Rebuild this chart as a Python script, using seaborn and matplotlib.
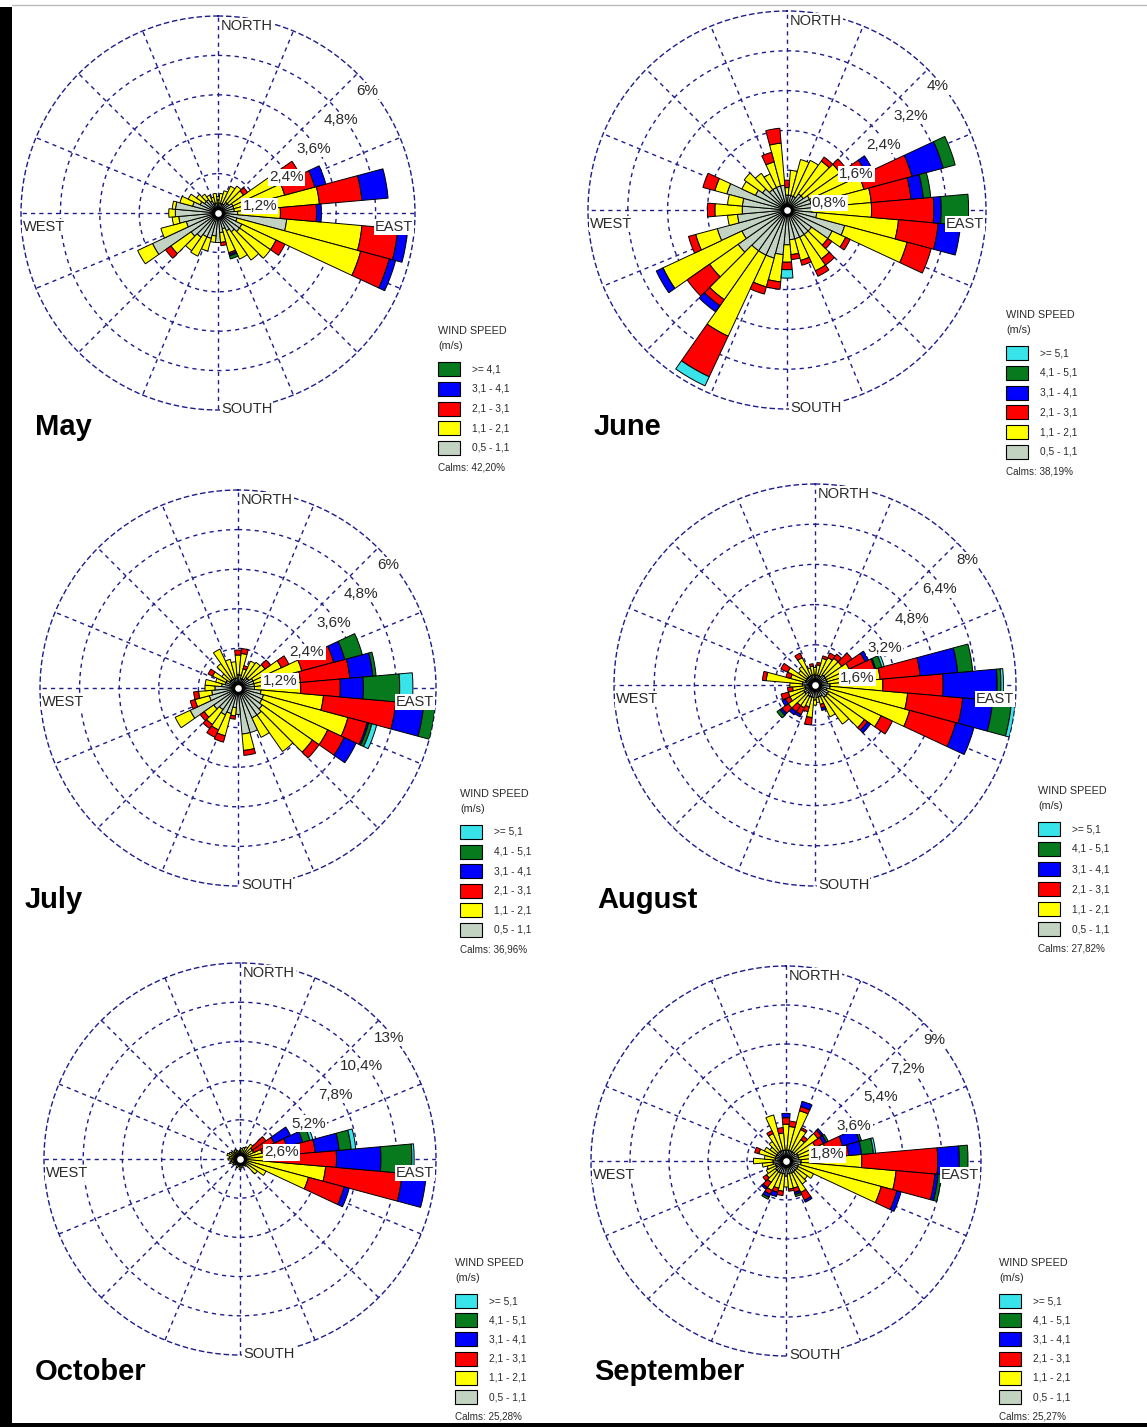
import numpy as np
import matplotlib
matplotlib.use("Agg")
import matplotlib.pyplot as plt
from matplotlib.patches import Rectangle
from matplotlib.lines import Line2D
import seaborn as sns

sns.set_theme(style="white")
plt.rcParams['font.family'] = ['Liberation Sans', 'DejaVu Sans']

W, H = 1147, 1427

# 36 sectors, compass degrees (clockwise from north)
directions = np.arange(0, 360, 10)

# ---- frequencies (%) per speed class, one value per sector ----
may_05 = [0.4, 0.3, 0.3, 0.3, 0.4, 0.4, 0.5, 0.5, 0.5, 0.6, 2.1, 0.6,
          0.8, 0.8, 0.7, 0.6, 0.5, 0.6, 0.9, 0.7, 0.8, 0.8, 0.9, 1.0,
          2.2, 1.0, 1.2, 1.3, 1.3, 0.8, 0.6, 0.5, 0.5, 0.4, 0.3, 0.3]
may_11 = [0.1, 0.3, 0.4, 0.6, 0.6, 0.55, 1.5, 1.6, 2.6, 1.3, 2.3, 3.9,
          1.15, 1.15, 1.05, 0.95, 0.75, 0.3, 0.0, 0.2, 0.4, 0.65, 0.5, 0.75,
          0.5, 0.8, 0.2, 0.2, 0.1, 0.4, 0.4, 0.3, 0.2, 0.2, 0.2, 0.3]
may_21 = [0, 0, 0, 0, 0, 0.15, 0.75, 0.95, 1.3, 1.1, 1.1, 0.9,
          0.3, 0, 0, 0, 0.05, 0.1, 0, 0, 0, 0, 0, 0.2,
          0, 0, 0, 0, 0, 0, 0, 0, 0, 0, 0, 0]
may_31 = [0, 0, 0, 0, 0, 0, 0, 0.35, 0.8, 0.15, 0.3, 0.2,
          0, 0, 0, 0, 0.05, 0, 0, 0, 0, 0, 0, 0,
          0, 0, 0, 0, 0, 0, 0, 0, 0, 0, 0, 0]
may_41 = [0, 0, 0, 0, 0, 0, 0, 0, 0, 0, 0, 0,
          0, 0, 0, 0, 0.1, 0, 0, 0, 0, 0, 0, 0,
          0, 0, 0, 0, 0, 0, 0, 0, 0, 0, 0, 0]

june_05 = [0.3, 0.3, 0.3, 0.3, 0.4, 0.4, 0.5, 0.5, 0.5, 0.5, 0.6, 1.2,
           1.0, 0.6, 0.6, 0.6, 0.6, 0.6, 0.7, 0.9, 1.0, 1.0, 1.0, 1.2,
           1.0, 1.45, 1.0, 0.9, 0.9, 1.25, 0.7, 0.6, 0.5, 0.5, 0.5, 0.5]
june_11 = [0.15, 0.5, 0.75, 0.8, 0.8, 0.9, 1.0, 1.1, 1.2, 1.2, 1.65, 1.3,
           0.3, 0.4, 0.6, 0.75, 0.45, 0.3, 0.35, 0.55, 0.6, 1.8, 1.2, 0.7,
           1.75, 0.45, 0.2, 0.55, 0.3, 0.25, 0.3, 0.45, 0.4, 0.3, 0.5, 0.85]
june_21 = [0.15, 0, 0, 0, 0.1, 0.15, 0.25, 1.0, 0.8, 1.25, 0.8, 0.5,
           0.1, 0.1, 0.15, 0.12, 0.1, 0.1, 0.15, 0.15, 0.15, 0.9, 0.15, 0.55,
           0, 0.15, 0, 0.15, 0, 0.25, 0, 0, 0, 0, 0.2, 0.3]
june_31 = [0, 0, 0, 0, 0, 0, 0.15, 0.65, 0.25, 0.15, 0.45, 0,
           0, 0, 0, 0, 0, 0, 0, 0, 0, 0, 0.15, 0,
           0.15, 0, 0, 0, 0, 0, 0, 0, 0, 0, 0, 0]
june_41 = [0, 0, 0, 0, 0, 0, 0, 0.25, 0.15, 0.55, 0, 0,
           0, 0, 0, 0, 0, 0, 0, 0, 0, 0, 0, 0,
           0, 0, 0, 0, 0, 0, 0, 0, 0, 0, 0, 0]
june_51 = [0, 0, 0, 0, 0, 0, 0, 0, 0, 0, 0, 0,
           0, 0, 0, 0, 0, 0, 0.17, 0, 0, 0.2, 0, 0,
           0, 0, 0, 0, 0, 0, 0, 0, 0, 0, 0, 0]

july_05 = [0.4, 0.4, 0.3, 0.3, 0.4, 0.4, 0.5, 0.5, 0.5, 0.5, 0.7, 0.8,
           0.8, 0.9, 1.0, 1.0, 1.4, 1.4, 0.8, 0.6, 0.8, 0.9, 0.8, 0.9,
           1.6, 0.9, 0.8, 0.7, 0.5, 0.4, 0.4, 0.3, 0.3, 0.3, 0.3, 0.3]
july_11 = [0.6, 0.65, 0.3, 0.6, 0.55, 0.6, 0.95, 1.5, 1.4, 1.4, 1.9, 2.65,
           2.2, 1.85, 1.35, 0.65, 0.0, 0.5, 0.0, 0.25, 0.7, 0.5, 0.55, 0.35,
           0.5, 0.45, 0.4, 0.3, 0.5, 0.3, 0.45, 0.3, 0.6, 1.0, 0.6, 0.5]
july_21 = [0.15, 0.15, 0.1, 0, 0, 0.2, 0.25, 1.0, 1.5, 1.2, 2.2, 0.6,
           0.55, 0.25, 0, 0, 0, 0.15, 0, 0.1, 0.2, 0.25, 0.15, 0.15,
           0, 0.15, 0.15, 0, 0, 0, 0.15, 0, 0, 0, 0, 0]
july_31 = [0, 0, 0, 0, 0, 0, 0, 0.35, 0.7, 0.7, 0.85, 0.05,
           0.4, 0, 0, 0, 0, 0, 0, 0, 0, 0, 0, 0,
           0, 0, 0, 0, 0, 0, 0, 0, 0, 0, 0, 0]
july_41 = [0, 0, 0, 0, 0, 0, 0, 0.55, 0.1, 1.1, 0.35, 0.1,
           0, 0, 0, 0, 0, 0, 0, 0, 0, 0, 0, 0,
           0, 0, 0, 0, 0, 0, 0, 0, 0, 0, 0, 0]
july_51 = [0, 0, 0, 0, 0, 0, 0, 0, 0, 0.4, 0, 0.15,
           0, 0, 0, 0, 0, 0, 0, 0, 0, 0, 0, 0,
           0, 0, 0, 0, 0, 0, 0, 0, 0, 0, 0, 0]

aug_05 = [0.4, 0.4, 0.4, 0.4, 0.5, 0.5, 0.5, 0.5, 0.5, 0.6, 0.6, 0.5,
          0.6, 0.6, 0.6, 0.5, 0.5, 0.5, 0.6, 0.5, 0.5, 0.5, 0.4, 0.5,
          0.5, 0.4, 0.4, 0.5, 0.5, 0.4, 0.4, 0.4, 0.4, 0.4, 0.4, 0.4]
aug_11 = [0.3, 0.4, 0.7, 0.8, 0.8, 0.8, 1.0, 1.1, 2.1, 2.1, 3.1, 3.4,
          2.3, 1.8, 1.3, 0.9, 0.3, 0.2, 0.2, 0.8, 0.4, 0.5, 0.6, 0.8,
          0.6, 0.7, 0.5, 0.5, 1.45, 0.6, 0.8, 0.4, 0.5, 0.8, 0.3, 0.35]
aug_21 = [0, 0.1, 0.1, 0.2, 0.2, 0.5, 0.7, 0.85, 1.6, 2.4, 2.2, 1.9,
          0.5, 0.15, 0, 0, 0.15, 0, 0, 0.3, 0.2, 0.3, 0.3, 0.3,
          0.2, 0.3, 0.2, 0, 0.15, 0.2, 0.3, 0, 0, 0.2, 0, 0.1]
aug_31 = [0, 0, 0, 0, 0, 0, 0.15, 0.05, 1.5, 2.15, 1.2, 0.75,
          0, 0.15, 0, 0, 0.1, 0, 0, 0, 0, 0.1, 0.15, 0.1,
          0.15, 0, 0, 0, 0, 0, 0, 0, 0, 0, 0, 0]
aug_41 = [0, 0, 0, 0, 0, 0, 0, 0.25, 0.6, 0.15, 0.75, 0,
          0, 0, 0, 0, 0, 0, 0, 0, 0, 0, 0, 0.15,
          0, 0, 0, 0, 0, 0, 0, 0, 0, 0, 0, 0]
aug_51 = [0, 0, 0, 0, 0, 0, 0, 0.1, 0, 0.1, 0.15, 0,
          0, 0, 0, 0, 0, 0, 0, 0, 0, 0, 0, 0,
          0, 0, 0, 0, 0, 0, 0, 0, 0, 0, 0, 0]

oct_05 = [0.3, 0.3, 0.3, 0.3, 0.4, 0.4, 0.4, 0.4, 0.4, 0.4, 0.4, 0.4,
          0.3, 0.3, 0.3, 0.3, 0.3, 0.3, 0.4, 0.3, 0.3, 0.3, 0.3, 0.3,
          0.3, 0.3, 0.3, 0.4, 0.3, 0.4, 0.3, 0.3, 0.3, 0.3, 0.3, 0.3]
oct_11 = [0.3, 0.4, 0.5, 0.6, 0.8, 0.6, 0.6, 1.1, 2.1, 1.6, 5.3, 4.3,
          1.6, 1.1, 0.3, 0.2, 0.2, 0.3, 0.3, 0.2, 0.3, 0.1, 0.2, 0.3,
          0.2, 0.4, 0.3, 0.4, 0.4, 0.5, 0.5, 0.4, 0.3, 0.4, 0.3, 0.2]
oct_21 = [0, 0, 0, 0, 0, 1.1, 1.5, 1.7, 2.5, 4.4, 5.1, 2.45,
          0, 0, 0, 0, 0, 0, 0, 0, 0, 0, 0, 0,
          0, 0, 0, 0, 0, 0, 0, 0, 0, 0, 0, 0]
oct_31 = [0, 0, 0, 0, 0, 0, 1.2, 1.1, 1.6, 2.95, 1.6, 0.35,
          0, 0, 0, 0, 0, 0, 0, 0, 0, 0, 0, 0,
          0, 0, 0, 0, 0, 0, 0, 0, 0, 0, 0, 0]
oct_41 = [0, 0, 0, 0, 0, 0, 0, 0.5, 0.8, 2.05, 0, 0,
          0, 0, 0, 0, 0, 0, 0, 0, 0, 0, 0, 0,
          0, 0, 0, 0, 0, 0, 0, 0, 0, 0, 0, 0]
oct_51 = [0, 0, 0, 0, 0, 0, 0, 0.2, 0.3, 0.15, 0, 0,
          0, 0, 0, 0, 0, 0, 0, 0, 0, 0, 0, 0,
          0, 0, 0, 0, 0, 0, 0, 0, 0, 0, 0, 0]

sep_05 = [0.5, 0.5, 0.5, 0.5, 0.5, 0.5, 0.6, 0.6, 0.6, 0.7, 0.7, 0.6,
          0.6, 0.6, 0.6, 0.6, 0.6, 0.6, 0.7, 0.6, 0.6, 0.6, 0.6, 0.6,
          0.5, 0.5, 0.6, 0.6, 0.5, 0.5, 0.5, 0.5, 0.5, 0.5, 0.5, 0.5]
sep_11 = [1.2, 1.1, 1.9, 1.1, 0.7, 1.3, 0.9, 1.3, 1.4, 2.8, 4.4, 3.95,
          0.8, 0.6, 0.7, 1.0, 0.7, 0.7, 0.5, 0.8, 0.7, 0.9, 0.6, 0.5,
          0.5, 0.4, 0.5, 0.9, 0.5, 0.8, 0.6, 0.4, 0.6, 0.9, 1.7, 0.8]
sep_21 = [0.3, 0.25, 0.2, 0.1, 0.2, 0.2, 0.4, 0.8, 0.9, 3.5, 1.8, 0.75,
          0, 0, 0, 0.4, 0.2, 0.1, 0, 0.2, 0.2, 0.2, 0.3, 0.2,
          0, 0, 0, 0, 0, 0.2, 0, 0, 0, 0.15, 0, 0.25]
sep_31 = [0.2, 0, 0.25, 0, 0, 0.1, 0.15, 0.8, 0.6, 1.0, 0.15, 0.2,
          0, 0, 0, 0.1, 0.1, 0, 0, 0, 0.2, 0.15, 0.1, 0,
          0, 0, 0, 0, 0, 0, 0, 0, 0, 0, 0, 0]
sep_41 = [0, 0, 0, 0, 0, 0, 0.1, 0.1, 0.55, 0.4, 0.15, 0,
          0, 0, 0, 0, 0.1, 0, 0, 0, 0, 0.1, 0, 0,
          0, 0, 0, 0, 0, 0, 0, 0, 0, 0, 0, 0]
sep_51 = [0, 0, 0, 0, 0, 0, 0, 0, 0.1, 0, 0, 0,
          0, 0, 0, 0, 0, 0, 0, 0, 0, 0, 0, 0,
          0, 0, 0, 0, 0, 0, 0, 0, 0, 0, 0, 0]

# class names (lowest first) and colours
class_names = ["0,5 - 1,1", "1,1 - 2,1", "2,1 - 3,1", "3,1 - 4,1", "4,1 - 5,1", ">= 5,1"]
may_names = ["0,5 - 1,1", "1,1 - 2,1", "2,1 - 3,1", "3,1 - 4,1", ">= 4,1"]
palette = sns.color_palette(["#c2d3c2", "#ffff00", "#ff0000", "#0000ff", "#067a1c", "#38e4ea"])

ring_may = [1.2, 2.4, 3.6, 4.8, 6.0]
ring_june = [0.8, 1.6, 2.4, 3.2, 4.0]
ring_july = [1.2, 2.4, 3.6, 4.8, 6.0]
ring_aug = [1.6, 3.2, 4.8, 6.4, 8.0]
ring_oct = [2.6, 5.2, 7.8, 10.4, 13.0]
ring_sep = [1.8, 3.6, 5.4, 7.2, 9.0]

lab_may = ["1,2%", "2,4%", "3,6%", "4,8%", "6%"]
lab_june = ["0,8%", "1,6%", "2,4%", "3,2%", "4%"]
lab_july = ["1,2%", "2,4%", "3,6%", "4,8%", "6%"]
lab_aug = ["1,6%", "3,2%", "4,8%", "6,4%", "8%"]
lab_oct = ["2,6%", "5,2%", "7,8%", "10,4%", "13%"]
lab_sep = ["1,8%", "3,6%", "5,4%", "7,2%", "9%"]

calms = ["42,20%", "38,19%", "36,96%", "27,82%", "25,28%", "25,27%"]
months = ["May", "June", "July", "August", "October", "September"]

# layout: (center x, center y, radius) in pixels, title pos, legend pos + row step
panels = [
    dict(data=[may_05, may_11, may_21, may_31, may_41], names=may_names, rings=ring_may, labs=lab_may,
         c=(218, 213, 197), title=(35, 427), leg=(438, 331, 19.75)),
    dict(data=[june_05, june_11, june_21, june_31, june_41, june_51], names=class_names, rings=ring_june, labs=lab_june,
         c=(787, 210, 199), title=(594, 427), leg=(1006, 315, 19.8)),
    dict(data=[july_05, july_11, july_21, july_31, july_41, july_51], names=class_names, rings=ring_july, labs=lab_july,
         c=(238, 688, 198), title=(25, 900), leg=(460, 794, 19.6)),
    dict(data=[aug_05, aug_11, aug_21, aug_31, aug_41, aug_51], names=class_names, rings=ring_aug, labs=lab_aug,
         c=(815, 685, 201), title=(597, 900), leg=(1038, 791, 20.0)),
    dict(data=[oct_05, oct_11, oct_21, oct_31, oct_41, oct_51], names=class_names, rings=ring_oct, labs=lab_oct,
         c=(240, 1159, 196), title=(35, 1372), leg=(455, 1263, 19.2)),
    dict(data=[sep_05, sep_11, sep_21, sep_31, sep_41, sep_51], names=class_names, rings=ring_sep, labs=lab_sep,
         c=(786, 1161, 195), title=(594, 1372), leg=(999, 1263, 19.2)),
]

grid_col = "#1c1c8c"
dash = (0, (3, 3))
txt_col = "#2a2a2a"


def fx(x):
    return x / W


def fy(y):
    return 1 - y / H


fig = plt.figure(figsize=(W / 100, H / 100), dpi=100)
fig.patch.set_facecolor("white")

theta = np.deg2rad(directions)
width = np.deg2rad(10)

for p, month, calm in zip(panels, months, calms):
    cx, cy, R = p["c"]
    ax = fig.add_axes([fx(cx - R), fy(cy + R), fx(2 * R), 2 * R / H], projection="polar")
    ax.set_theta_zero_location("N")
    ax.set_theta_direction(-1)
    rmax = p["rings"][-1]
    ax.set_ylim(0, rmax)
    ax.set_yticks(p["rings"][:-1])
    ax.set_yticklabels([])
    ax.set_xticks(np.deg2rad(np.arange(0, 360, 22.5)))
    ax.set_xticklabels([])
    ax.grid(True, color=grid_col, linestyle=dash, linewidth=1.0)
    ax.spines["polar"].set_color(grid_col)
    ax.spines["polar"].set_linestyle(dash)
    ax.spines["polar"].set_linewidth(1.0)
    ax.set_facecolor("white")

    # stacked bars per speed class
    bottom = np.zeros(len(directions))
    for vals, col in zip(p["data"], palette):
        vals = np.asarray(vals, dtype=float)
        m = vals > 0
        ax.bar(theta[m], vals[m], width=width, bottom=bottom[m], color=col,
               edgecolor="black", linewidth=0.7, zorder=3)
        bottom += vals
    ax.plot([0], [0], marker="o", ms=7, mfc="white", mec="black", mew=2.2, zorder=5, clip_on=False)

    # ring labels
    box = dict(boxstyle="square,pad=0.08", fc="white", ec="none")
    for val, lab in zip(p["rings"], p["labs"]):
        ax.annotate(lab, xy=(np.deg2rad(43), val), xytext=(15, -22), textcoords="offset pixels",
                    ha="center", va="center", fontsize=11, color=txt_col, bbox=box,
                    zorder=6, annotation_clip=False)

    # compass labels
    cbox = dict(boxstyle="square,pad=0.05", fc="white", ec="none")
    for lab, ang, off, ha in [("NORTH", 0, (3, -10), "left"), ("SOUTH", 180, (3, 1), "left"),
                              ("WEST", 270, (2, -14), "left"), ("EAST", 90, (-2, -14), "right")]:
        ax.annotate(lab, xy=(np.deg2rad(ang), rmax), xytext=off, textcoords="offset pixels",
                    ha=ha, va="center", fontsize=10.5, color=txt_col, bbox=cbox,
                    zorder=6, annotation_clip=False)

    # month title
    tx, ty = p["title"]
    fig.text(fx(tx), fy(ty), month, fontsize=21, fontweight="bold", ha="left", va="center", color="black")

    # legend
    lx, ly, step = p["leg"]
    fig.text(fx(lx), fy(ly), "WIND SPEED", fontsize=7.8, ha="left", va="center", color=txt_col)
    fig.text(fx(lx), fy(ly + 15), "(m/s)", fontsize=7.8, ha="left", va="center", color=txt_col)
    n = len(p["names"])
    for i in range(n):
        k = n - 1 - i
        yc = ly + 38 + i * step
        fig.add_artist(Rectangle((fx(lx), fy(yc + 7)), 22 / W, 14 / H, transform=fig.transFigure,
                                 facecolor=palette[k], edgecolor="black", linewidth=0.8))
        fig.text(fx(lx + 34), fy(yc), p["names"][k], fontsize=7.3, ha="left", va="center", color=txt_col)
    fig.text(fx(lx), fy(ly + 38 + (n - 1) * step + 19.5), "Calms: " + calm, fontsize=7.1,
             ha="left", va="center", color=txt_col)

# frame: black bar left, black band bottom, thin grey line on top
fig.add_artist(Rectangle((0, 0), 12 / W, fy(7), transform=fig.transFigure, facecolor="black",
                         edgecolor="none", zorder=0))
fig.add_artist(Rectangle((0, 0), 1, 4 / H, transform=fig.transFigure, facecolor="black",
                         edgecolor="none", zorder=0))
fig.add_artist(Line2D([fx(12), 1], [fy(5), fy(5)], transform=fig.transFigure, color="#bbbbbb", linewidth=1))

fig.savefig("out.png", dpi=100, facecolor="white")
